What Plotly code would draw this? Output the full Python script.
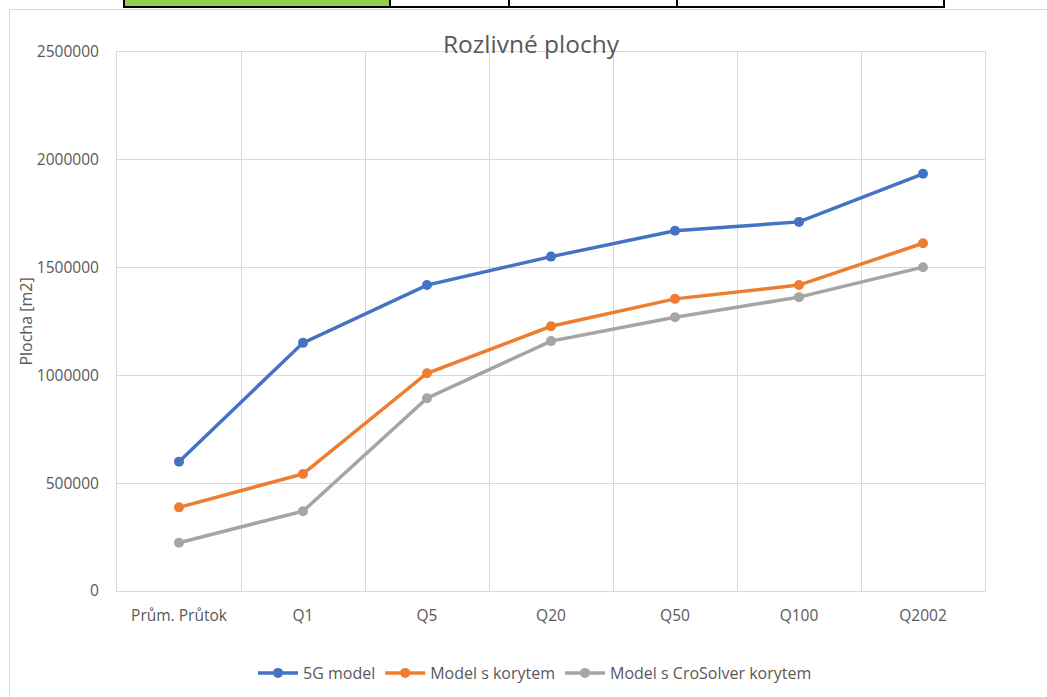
import plotly.graph_objects as go

# Flood extent areas per discharge scenario
categories = ["Prům. Průtok", "Q1", "Q5", "Q20", "Q50", "Q100", "Q2002"]
model_5g = [600000, 1151000, 1419000, 1551000, 1671000, 1712000, 1935000]
model_korytem = [388000, 543000, 1010000, 1228000, 1355000, 1419000, 1613000]
model_crosolver = [224000, 370000, 894000, 1159000, 1270000, 1363000, 1502000]

series = [
    ("5G model", model_5g, "#4472C4"),
    ("Model s korytem", model_korytem, "#ED7D31"),
    ("Model s CroSolver korytem", model_crosolver, "#A5A5A5"),
]

W, H = 1047, 697
L, R, T, B = 117, 985, 52, 591  # plot area in pixels
FONT = "Open Sans, Liberation Sans, sans-serif"
GREY_TXT = "#595959"
GRID = "#D9D9D9"


def px_x(p):
    return (p - L) / (R - L)


def px_y(p):
    return (B - p) / (B - T)


fig = go.Figure()
for name, vals, color in series:
    fig.add_trace(go.Scatter(
        x=categories, y=vals, name=name, mode="lines+markers",
        line=dict(color=color, width=3.5),
        marker=dict(color=color, size=10),
    ))

shapes = [
    # chart frame
    dict(type="rect", xref="paper", yref="paper",
         x0=px_x(9.5), x1=px_x(W + 20), y0=px_y(H + 20), y1=px_y(9.5),
         line=dict(color=GRID, width=1), fillcolor="rgba(0,0,0,0)", layer="below"),
]

# spreadsheet row peeking above the chart
cells = [(124, 390, "#92D050"), (390, 509, "white"), (509, 677, "white"), (677, 944, "white")]
for x0, x1, fill in cells:
    shapes.append(dict(type="rect", xref="paper", yref="paper",
                       x0=px_x(x0), x1=px_x(x1), y0=px_y(7), y1=px_y(-10),
                       line=dict(color="#000000", width=2), fillcolor=fill))

fig.update_layout(
    width=W, height=H,
    margin=dict(l=L, r=W - R, t=T, b=H - B),
    paper_bgcolor="white", plot_bgcolor="white",
    font=dict(family=FONT, size=15, color=GREY_TXT),
    title=dict(text="Rozlivné plochy", x=531 / W, xref="container", xanchor="center",
               y=1 - 44 / H, yref="container", yanchor="middle",
               font=dict(family=FONT, size=24.5, color=GREY_TXT)),
    xaxis=dict(type="category", range=[-0.5, 6.5], tickson="boundaries",
               showgrid=True, gridcolor=GRID, gridwidth=1,
               showline=True, linecolor=GRID, linewidth=1, mirror=True,
               ticks="", ticklabelstandoff=10, tickfont=dict(size=15.5, color=GREY_TXT)),
    yaxis=dict(range=[0, 2500000], dtick=500000, tickformat="d",
               showgrid=True, gridcolor=GRID, gridwidth=1, zeroline=False,
               showline=True, linecolor=GRID, linewidth=1, mirror=True,
               ticks="", ticklabelstandoff=14, tickfont=dict(size=15.5, color=GREY_TXT),
               title=dict(text="Plocha [m2]", standoff=0,
                          font=dict(size=16, color=GREY_TXT))),
    legend=dict(orientation="h", xref="container", yref="container",
                x=535 / W, y=1 - 673 / H, xanchor="center", yanchor="middle",
                font=dict(size=16, color=GREY_TXT), itemwidth=40,
                bgcolor="rgba(0,0,0,0)"),
    shapes=shapes,
    showlegend=True,
)

fig.write_html("out.html")
